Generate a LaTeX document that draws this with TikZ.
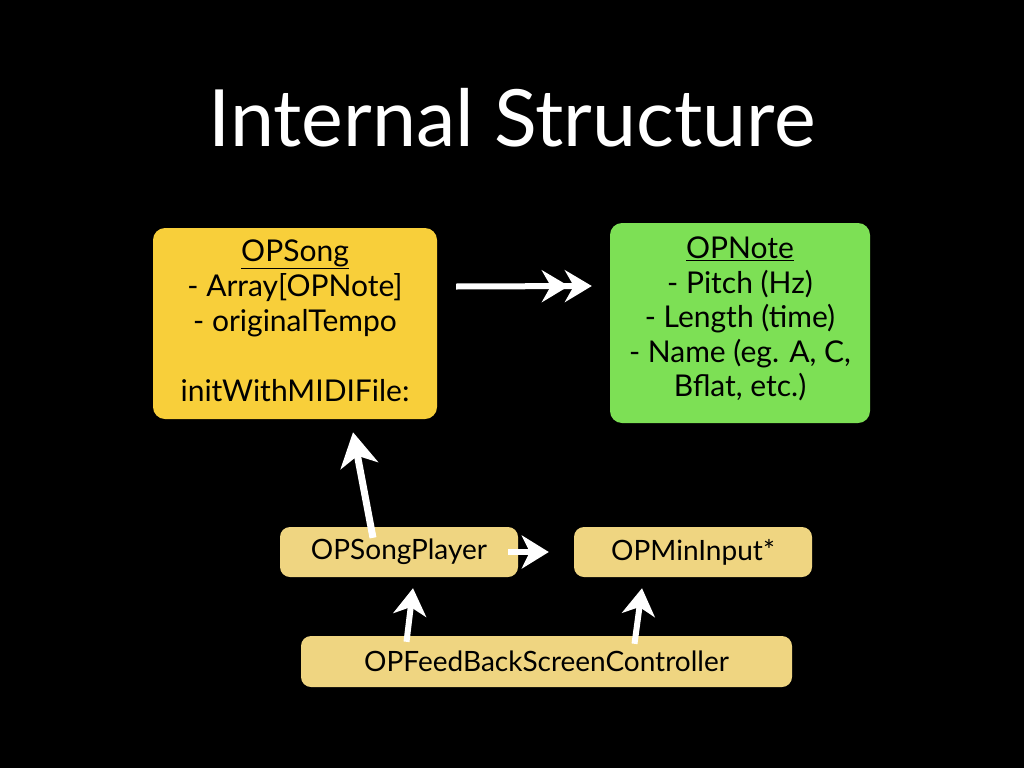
\documentclass[tikz,border=0pt]{standalone}
\usepackage{fontspec}
\setmainfont{Lato}
\usetikzlibrary{arrows.meta}
\definecolor{songcol}{HTML}{F8CF3A}
\definecolor{notecol}{HTML}{7DE055}
\definecolor{palecol}{HTML}{EFD581}
\tikzset{
  box/.style={draw=none, rounded corners=12pt, inner sep=0pt, align=center, text=black},
  txt/.style={align=center, inner sep=0pt, text=black, font=\fontsize{30}{35}\selectfont},
  smallbox/.style={box, fill=palecol, rounded corners=10pt, minimum width=238pt, minimum height=50pt, font=\fontsize{28}{30}\selectfont},
  conn/.style={draw=white, line width=6pt, -{Stealth[length=27pt,width=33pt,inset=8pt]}},
  bigconn/.style={draw=white, line width=7pt, -{Stealth[length=34pt,width=38pt,inset=10pt]}},
}
\begin{document}
\begin{tikzpicture}[x=1pt,y=-1pt]
\fill[black] (0,0) rectangle (1024,768);
\useasboundingbox (0,0) rectangle (1024,768);
\node[text=white, font=\fontsize{79}{90}\selectfont] (title) at (512,118) {Internal Structure};
\node[box, fill=songcol, minimum width=284pt, minimum height=191pt] (song) at (295,323.5) {};
\node[txt] (songtxt) at (295,321)
  {\underline{OPSong}\\- Array[OPNote]\\- originalTempo\\[35pt]initWithMIDIFile:};
\node[box, fill=notecol, minimum width=260pt, minimum height=200pt] (note) at (740,323) {};
\node[txt, font=\fontsize{30}{34.5}\selectfont] (notetxt) at (740,319)
  {\underline{OPNote}\\- Pitch (Hz)\\- Length (time)\\- Name (eg. A, C,\\Bflat, etc.)};
\node[smallbox] (player) at (399,552) {OPSongPlayer};
\node[smallbox] (input) at (693,552) {OPMinInput*};
\node[smallbox, minimum width=491pt, minimum height=51pt] (fb) at (546.5,661.5) {OPFeedBackScreenController};
\draw[draw=white, line width=6pt, -{Stealth[length=27pt,width=32pt,inset=9pt,sep=-4pt]Stealth[length=27pt,width=32pt,inset=9pt]}]
  ([xshift=19pt,yshift=37pt]song.east) -- ([xshift=-18pt,yshift=37pt]note.west);
\draw[bigconn] ([xshift=-26pt,yshift=-11pt]player.north) -- ([xshift=58pt,yshift=-13pt]song.south);
\draw[conn] ([xshift=-10pt]player.east) -- ([xshift=-25pt]input.west);
\draw[conn] ([xshift=-140pt,yshift=-6pt]fb.north) -- ([xshift=14pt,yshift=-11pt]player.south);
\draw[conn] ([xshift=88pt,yshift=-8pt]fb.north) -- ([xshift=-51pt,yshift=-11pt]input.south);
\end{tikzpicture}
\end{document}
